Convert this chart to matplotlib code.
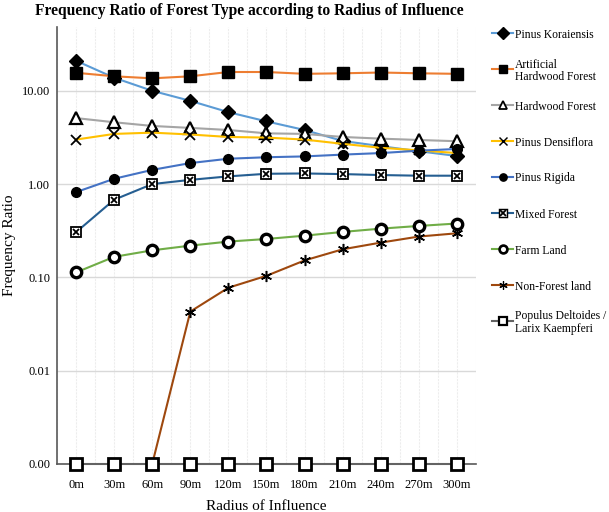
import numpy as np
import matplotlib
matplotlib.use("Agg")
import matplotlib.pyplot as plt
from matplotlib.lines import Line2D

plt.rcParams['font.family'] = ['Liberation Serif', 'DejaVu Serif']

radius = ["0m", "30m", "60m", "90m", "120m", "150m", "180m", "210m", "240m", "270m", "300m"]

pinus_koraiensis = [21.0, 13.8, 10.0, 7.8, 5.9, 4.7, 3.8, 2.9, 2.55, 2.25, 2.0]
artificial_hardwood = [15.6, 14.3, 13.6, 14.3, 15.9, 15.9, 15.2, 15.4, 15.7, 15.4, 15.2]
hardwood = [5.1, 4.6, 4.2, 4.0, 3.8, 3.5, 3.45, 3.2, 3.07, 2.97, 2.88]
pinus_densiflora = [3.0, 3.45, 3.56, 3.4, 3.2, 3.15, 3.0, 2.7, 2.45, 2.3, 2.15]
pinus_rigida = [0.82, 1.14, 1.42, 1.68, 1.87, 1.94, 1.98, 2.07, 2.15, 2.28, 2.38]
mixed_forest = [0.305, 0.68, 1.0, 1.11, 1.21, 1.29, 1.30, 1.28, 1.25, 1.23, 1.23]
farm_land = [0.113, 0.166, 0.195, 0.219, 0.242, 0.258, 0.28, 0.307, 0.333, 0.356, 0.378]
non_forest = [np.nan, np.nan, 0.0, 0.043, 0.0775, 0.104, 0.152, 0.2, 0.236, 0.274, 0.297]
populus_larix = [0.0] * 11

# name, values, line colour, marker style kwargs
series = [
    ("Pinus Koraiensis", pinus_koraiensis, "#5B9BD5",
     dict(marker="D", ms=7.5, mfc="k", mec="k")),
    ("Artificial\nHardwood Forest", artificial_hardwood, "#ED7D31",
     dict(marker="s", ms=8, mfc="k", mec="k")),
    ("Hardwood Forest", hardwood, "#A5A5A5",
     dict(marker="^", ms=8.5, mfc="w", mec="k", mew=1.6)),
    ("Pinus Densiflora", pinus_densiflora, "#FFC000",
     dict(marker="x", ms=7, mec="k", mew=1.3)),
    ("Pinus Rigida", pinus_rigida, "#4472C4",
     dict(marker="o", ms=7, mfc="k", mec="k")),
    ("Mixed Forest", mixed_forest, "#255E91",
     dict(marker="s", ms=7, mfc="w", mec="k", mew=1.3)),
    ("Farm Land", farm_land, "#70AD47",
     dict(marker="o", ms=7.5, mfc="w", mec="k", mew=2.4)),
    ("Non-Forest land", non_forest, "#9E480E",
     dict(marker=(6, 2, 0), ms=8, mec="k", mew=1.1)),
    ("Populus Deltoides /\nLarix Kaempferi", populus_larix, "#636363",
     dict(marker="s", ms=8, mfc="w", mec="k", mew=2)),
]
overlay = {"Mixed Forest": dict(marker="x", ms=5, mec="k", mew=1.3)}

ymin, ymax = 0.001, 48

fig = plt.figure(figsize=(6.09, 5.12), dpi=100)
ax = fig.add_axes([0.0936, 0.0938, 0.688, 0.853])

x = np.arange(len(radius))
for name, vals, col, mk in series:
    v = np.array(vals, dtype=float)
    v = np.where(v == 0, ymin, v)  # zeros sit on the axis floor
    ax.plot(x, v, color=col, lw=1.5, zorder=3, clip_on=False, **mk)
    if name in overlay:
        ax.plot(x, v, ls="none", zorder=4, **overlay[name])

ax.set_yscale("log")
ax.set_ylim(ymin, ymax)
ax.set_xlim(-0.5, 10.5)
ax.set_yticks([0.001, 0.01, 0.1, 1, 10])
ax.set_yticklabels(["0.00", "0.01", "0.10", "1.00", "10.00"])
ax.minorticks_off()
ax.set_xticks(x)
ax.set_xticklabels(radius)
ax.set_xticks(np.arange(-0.5, 11, 1), minor=True)
ax.tick_params(length=0, labelsize=9)
ax.tick_params(axis="y", pad=5)
ax.tick_params(axis="x", pad=11)
ax.tick_params(axis="x", which="minor", length=0)

ax.grid(axis="y", which="major", color="#D9D9D9", lw=1)
ax.grid(axis="x", which="both", color="#EDEDED", lw=0.8, ls=(0, (2, 1)))
ax.set_axisbelow(True)

for s in ["top", "right"]:
    ax.spines[s].set_visible(False)
for s in ["left", "bottom"]:
    ax.spines[s].set_color("#595959")
    ax.spines[s].set_linewidth(1.2)

ax.set_xlabel("Radius of Influence", fontsize=11, labelpad=6)
ax.set_ylabel("Frequency Ratio", fontsize=11, labelpad=4)
fig.suptitle("Frequency Ratio of Forest Type according to Radius of Influence",
             fontsize=11.2, fontweight="bold", x=0.41, y=0.995, va="top")

# legend drawn by hand so the marker lines up with the first text line
W, H = 609.0, 512.0
for i, (name, vals, col, mk) in enumerate(series):
    yy = 1 - (33 + 36 * i) / H
    small = dict(mk)
    small["ms"] = mk["ms"] * 0.75
    if "mew" in small:
        small["mew"] = mk["mew"] * 0.8
    fig.add_artist(Line2D([492 / W, 513 / W], [yy, yy], color=col, lw=1.5))
    fig.add_artist(Line2D([502.5 / W], [yy], **small))
    if name in overlay:
        ov = dict(overlay[name])
        ov["ms"] = ov["ms"] * 0.75
        fig.add_artist(Line2D([502.5 / W], [yy], ls="none", **ov))
    fig.text(515 / W, yy, name, fontsize=8.4, va="center_baseline", ha="left",
             linespacing=1.05)

fig.savefig("out.png", dpi=100)
